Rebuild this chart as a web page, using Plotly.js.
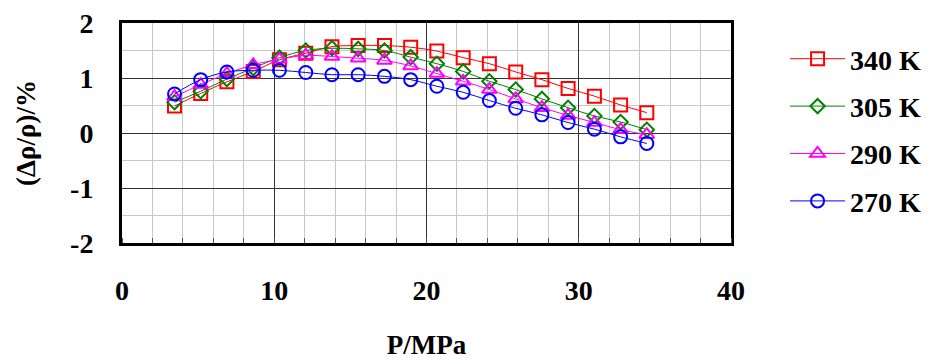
<!DOCTYPE html>
<html>
<head>
<meta charset="utf-8">
<script src="https://cdn.plot.ly/plotly-3.0.1.min.js"></script>
<style>html,body{margin:0;padding:0;background:#fff;}</style>
</head>
<body>
<div id="chart"></div>
<script>
const pressure = [3.45,5.17,6.89,8.62,10.34,12.07,13.79,15.51,17.24,18.96,20.68,22.41,24.13,25.86,27.58,29.30,31.03,32.75,34.47];
const dev340 = [0.49,0.72,0.93,1.12,1.33,1.45,1.57,1.59,1.59,1.56,1.49,1.37,1.26,1.11,0.97,0.81,0.67,0.51,0.37];
const dev305 = [0.56,0.76,0.98,1.18,1.37,1.50,1.54,1.53,1.50,1.38,1.26,1.12,0.94,0.79,0.62,0.46,0.31,0.20,0.06];
const dev290 = [0.66,0.88,1.08,1.24,1.34,1.41,1.39,1.36,1.32,1.22,1.08,0.94,0.79,0.62,0.46,0.32,0.19,0.06,-0.03];
const dev270 = [0.71,0.97,1.11,1.14,1.14,1.10,1.06,1.06,1.03,0.97,0.85,0.74,0.59,0.45,0.33,0.19,0.07,-0.07,-0.19];
const seriesNames = ['340 K','305 K','290 K','270 K'];
const xTickVals = [0,10,20,30,40];
const xTickText = ['0','10','20','30','40'];
const yTickVals = [-2,-1,0,1,2];
const yTickText = ['-2','-1','0','1','2'];

const seriesData = [dev340, dev305, dev290, dev270];
const colors = ['#ff0000','#008000','#ff00ff','#0000ff'];
const symbols = ['square-open','diamond-open','triangle-up-open','circle-open'];
const sizes = [13,11,13,13];

const traces = seriesData.map((ys,i)=>({
  x: pressure, y: ys, name: seriesNames[i], legendgroup: 'g'+i,
  type:'scatter', mode:'lines+markers',
  line:{color:colors[i], width:1, shape:'spline'},
  marker:{symbol:symbols[i], size:sizes[i], color:colors[i], line:{color:colors[i], width:2}}
}));

const FAM = 'Liberation Serif';
const f = (s)=>({family:FAM, size:s, weight:'bold', color:'#000'});

const layout = {
  width:937, height:364,
  margin:{l:122, r:205, t:23, b:121, pad:0},
  paper_bgcolor:'#fff', plot_bgcolor:'#fff',
  showlegend:true,
  legend:{x:1.087, xanchor:'left', y:0.95, yanchor:'top', font:f(28),
          tracegroupgap:8, itemwidth:55, bgcolor:'rgba(0,0,0,0)', borderwidth:0},
  xaxis:{range:[0,40], tickmode:'array', tickvals:xTickVals, ticktext:xTickText,
    showgrid:true, gridcolor:'#333', gridwidth:1, zeroline:false,
    showline:true, linecolor:'#000', linewidth:3, mirror:true, ticks:'',
    ticklabelstandoff:20,
    tickfont:f(28),
    minor:{dtick:2, showgrid:true, gridcolor:'#c8c8c8', gridwidth:1, ticks:'inside', ticklen:5, tickcolor:'#555', tickwidth:1},
    title:{text:'P/MPa', font:f(27), standoff:31}},
  yaxis:{range:[-2,2], tickmode:'array', tickvals:yTickVals, ticktext:yTickText,
    showgrid:true, gridcolor:'#333', gridwidth:1, zeroline:false,
    showline:true, linecolor:'#000', linewidth:3, mirror:true, ticks:'',
    ticklabelstandoff:20,
    tickfont:f(28),
    minor:{dtick:0.5, showgrid:true, gridcolor:'#c8c8c8', gridwidth:1, ticks:''},
    title:{text:'(Δρ/ρ)/%', font:f(27), standoff:27}}
};

Plotly.newPlot('chart', traces, layout, {staticPlot:true, displayModeBar:false});
</script>
</body>
</html>
